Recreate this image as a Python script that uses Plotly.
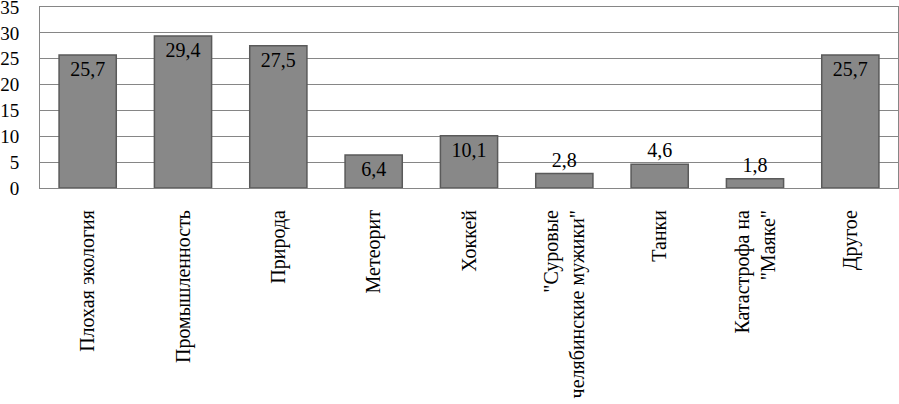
import plotly.graph_objects as go

categories = [
    "Плохая экология",
    "Промышленность",
    "Природа",
    "Метеорит",
    "Хоккей",
    "\"Суровые<br>челябинские мужики\"",
    "Танки",
    "Катастрофа на<br>\"Маяке\"",
    "Другое",
]
values = [25.7, 29.4, 27.5, 6.4, 10.1, 2.8, 4.6, 1.8, 25.7]
y_ticks = [0, 5, 10, 15, 20, 25, 30, 35]

FONT = "Times New Roman, serif"

labels = [f"{v:.1f}".replace(".", ",") for v in values]
positions = ["inside" if v > 5 else "outside" for v in values]

fig = go.Figure(go.Bar(
    x=categories,
    y=values,
    text=labels,
    textposition=positions,
    insidetextanchor="end",
    textangle=0,
    cliponaxis=False,
    constraintext="none",
    textfont=dict(family=FONT, size=20, color="#000000"),
    marker=dict(color="#888888", line=dict(color="#5a5a5a", width=1.5)),
    width=0.6,
))

fig.update_layout(
    width=899, height=404,
    paper_bgcolor="#ffffff",
    plot_bgcolor="#ffffff",
    font=dict(family=FONT, color="#000000", size=20),
    margin=dict(l=40, r=1, t=7, b=216),
    showlegend=False,
    xaxis=dict(
        tickangle=-90, automargin=False,
        showline=True, linecolor="#868686", linewidth=1, mirror=True,
        ticks="", ticklabelstandoff=13,
        tickfont=dict(family=FONT, size=20),
    ),
    yaxis=dict(
        range=[0, 35], automargin=False,
        tickvals=y_ticks,
        showgrid=True, gridcolor="#868686", gridwidth=1,
        showline=True, linecolor="#868686", linewidth=1, mirror=True,
        ticks="", ticklabelstandoff=16, ticklabeloverflow="allow",
        tickfont=dict(family=FONT, size=19),
        zeroline=False,
    ),
)

fig.write_html(
    "out.html",
    config={"displayModeBar": False},
    post_script="document.body.style.margin='0';",
)
